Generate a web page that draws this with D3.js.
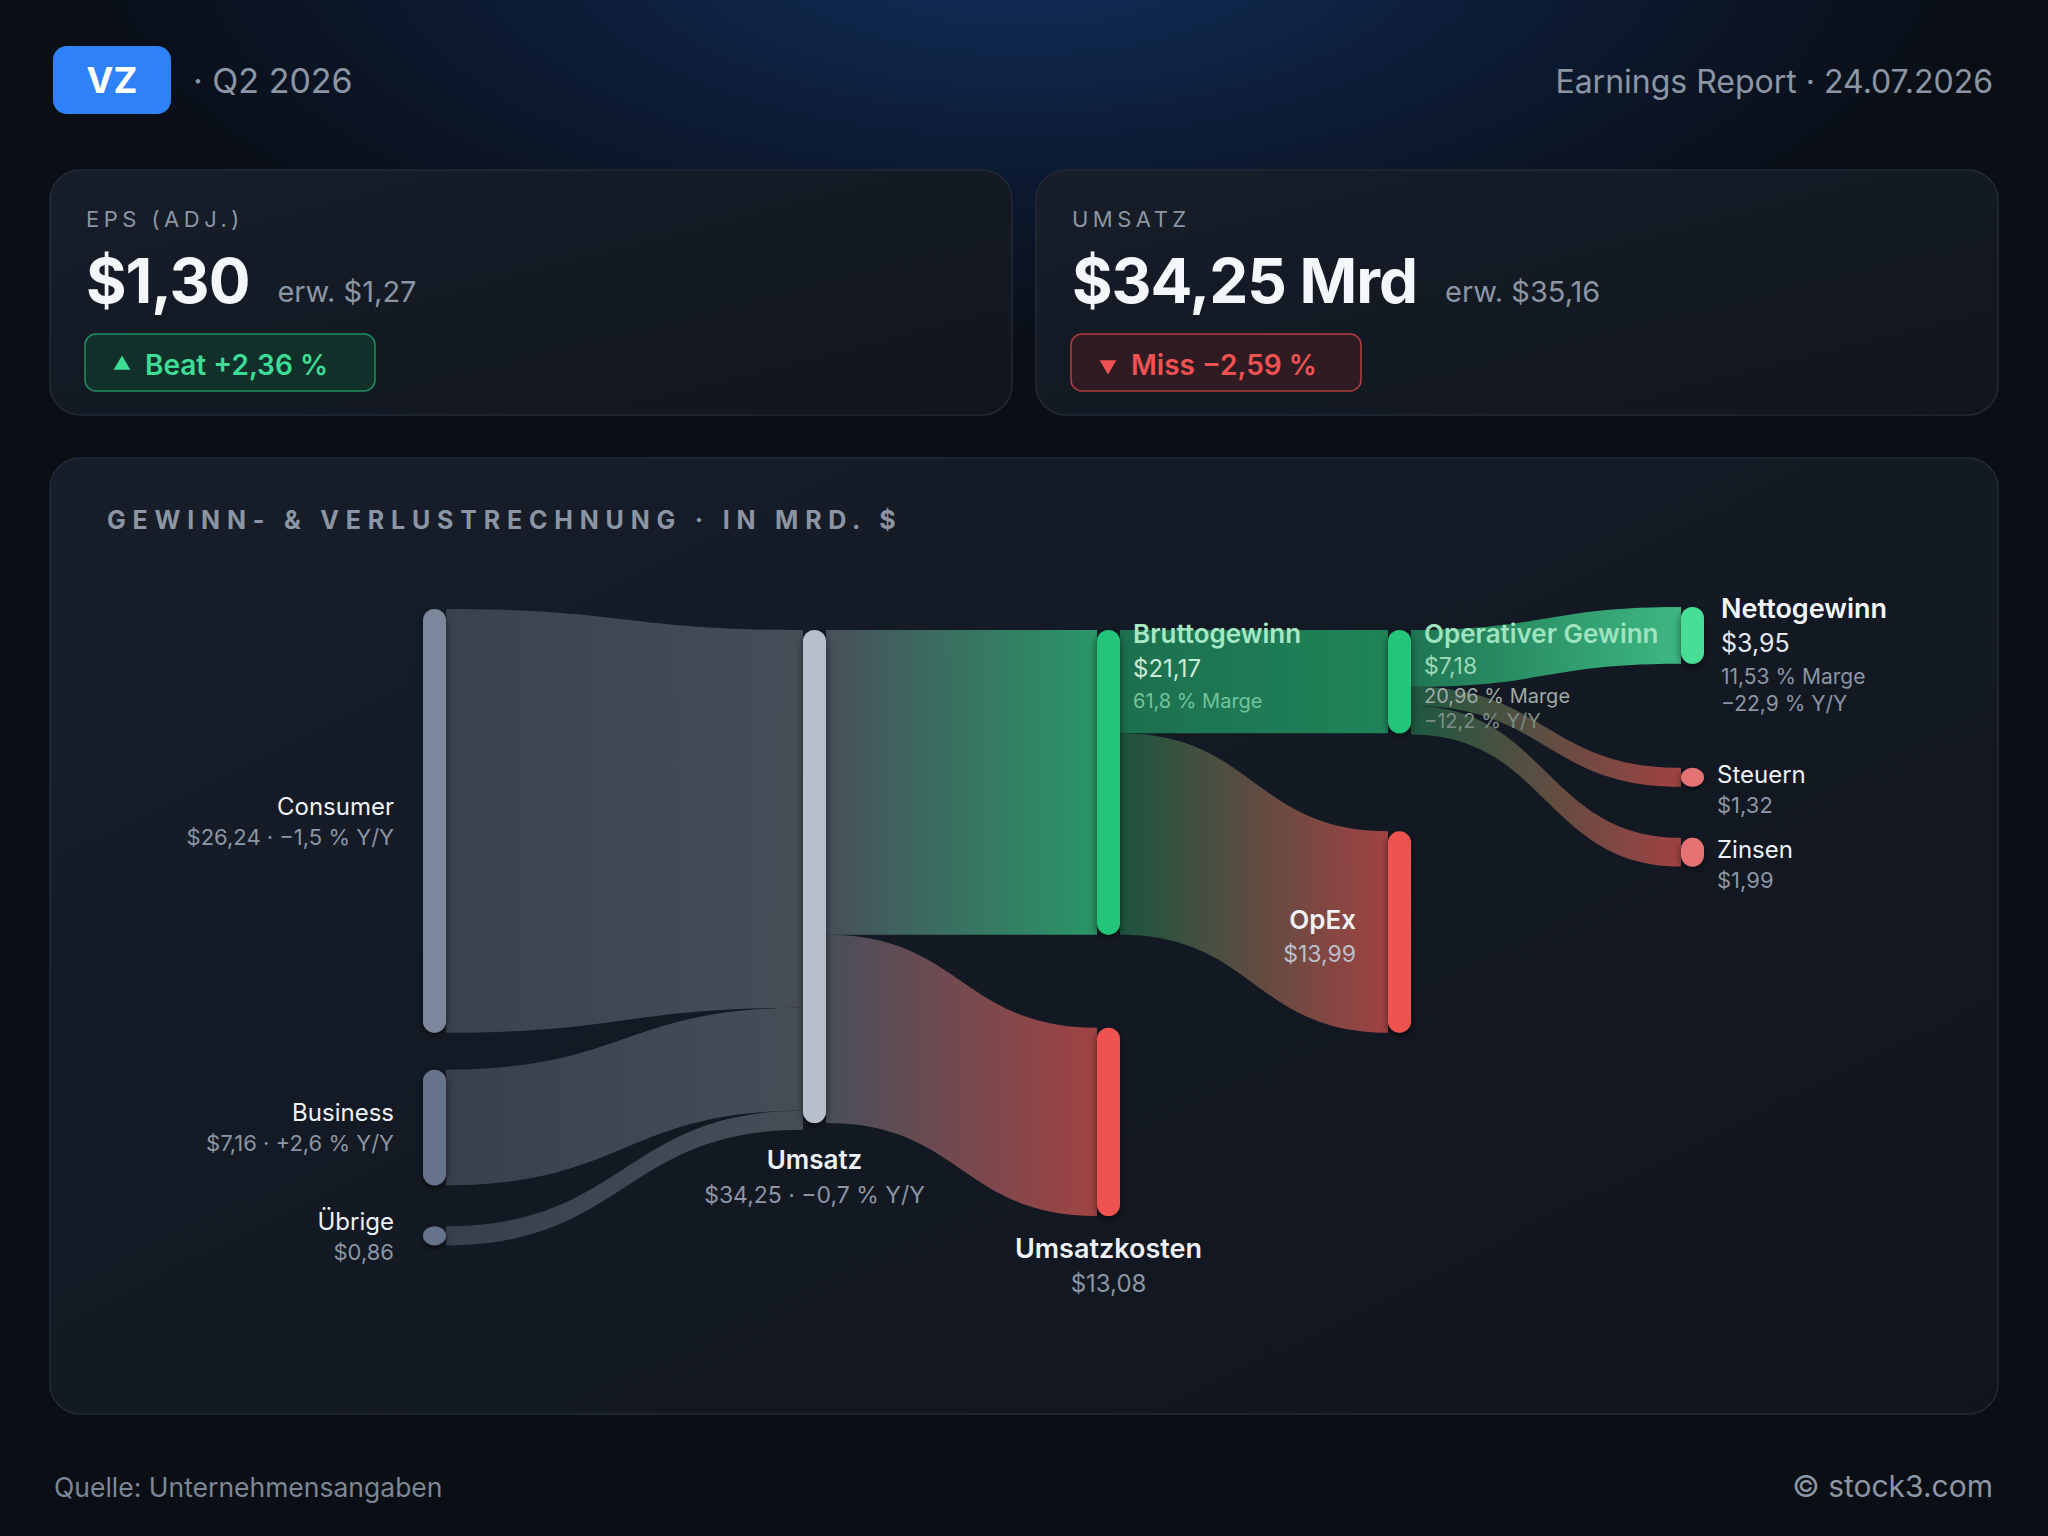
<!DOCTYPE html>
<html>
<head>
<meta charset="utf-8">
<script src="https://cdn.jsdelivr.net/npm/d3@7/dist/d3.min.js"></script>
<style>
html, body { margin: 0; padding: 0; background: #0a0e15; }
svg { display: block; font-family: Inter, "Noto Sans", "DejaVu Sans", sans-serif; }
</style>
</head>
<body>
<svg id="chart"></svg>
<script>
// header / cards
var ticker = "VZ";
var quarter = "Q2 2026";
var reportDate = "24.07.2026";
var kpiLabels = ["EPS (ADJ.)", "UMSATZ"];
var kpiActual = [1.30, 34.25];
var kpiExpected = [1.27, 35.16];
var kpiSurprise = [2.36, -2.59];
var kpiUnit = ["", " Mrd"];

// sankey nodes
var nodeNames = ["Consumer", "Business", "Übrige", "Umsatz", "Bruttogewinn", "Umsatzkosten",
  "Operativer Gewinn", "OpEx", "Nettogewinn", "Steuern", "Zinsen"];
var nodeValues = [26.24, 7.16, 0.86, 34.25, 21.17, 13.08, 7.18, 13.99, 3.95, 1.32, 1.99];
var nodeColumns = [0, 0, 0, 1, 2, 2, 3, 3, 4, 4, 4];
var nodeYoY = [-1.5, 2.6, null, -0.7, null, null, -12.2, null, -22.9, null, null];
var nodeMargin = [null, null, null, null, 61.8, null, 20.96, null, 11.53, null, null];

// sankey links
var linkSources = ["Consumer", "Business", "Übrige", "Umsatz", "Umsatz", "Bruttogewinn", "Bruttogewinn",
  "Operativer Gewinn", "Operativer Gewinn", "Operativer Gewinn"];
var linkTargets = ["Umsatz", "Umsatz", "Umsatz", "Bruttogewinn", "Umsatzkosten", "Operativer Gewinn", "OpEx",
  "Nettogewinn", "Steuern", "Zinsen"];
var linkValues = [26.24, 7.16, 0.86, 21.17, 13.08, 7.18, 13.99, 3.95, 1.32, 1.99];

var W = 2048, H = 1536;
var de = d3.formatLocale({decimal: ",", thousands: ".", grouping: [3], currency: ["$", ""], minus: "\u2212"});
var money = function (v) { return "$" + de.format(".2f")(v); };
var pct1 = de.format("+.1f");
var pctM = de.format(".2~f");
var pct2 = de.format("+.2f");

var svg = d3.select("#chart").attr("width", W).attr("height", H);
var defs = svg.append("defs");

// background
var bgGrad = defs.append("radialGradient").attr("id", "bgGlow")
  .attr("cx", 1024).attr("cy", -60).attr("r", 1000).attr("gradientUnits", "userSpaceOnUse")
  .attr("gradientTransform", "translate(1024,-60) scale(1,0.42) translate(-1024,60)");
bgGrad.append("stop").attr("offset", 0).attr("stop-color", "#12305e");
bgGrad.append("stop").attr("offset", 0.55).attr("stop-color", "#0c1a32");
bgGrad.append("stop").attr("offset", 1).attr("stop-color", "#0a0e15");
svg.append("rect").attr("width", W).attr("height", H).attr("fill", "#0a0e15");
svg.append("rect").attr("width", W).attr("height", 700).attr("fill", "url(#bgGlow)");

var cardGrad = defs.append("linearGradient").attr("id", "cardGrad")
  .attr("x1", 0).attr("y1", 0).attr("x2", 1).attr("y2", 1);
cardGrad.append("stop").attr("offset", 0).attr("stop-color", "#171e2a");
cardGrad.append("stop").attr("offset", 1).attr("stop-color", "#10151d");

var shadow = defs.append("filter").attr("id", "nodeShadow")
  .attr("x", "-100%").attr("y", "-20%").attr("width", "300%").attr("height", "140%");
shadow.append("feDropShadow").attr("dx", 0).attr("dy", 3).attr("stdDeviation", 4)
  .attr("flood-color", "#000").attr("flood-opacity", 0.55);

// header
svg.append("rect").attr("x", 53).attr("y", 46).attr("width", 118).attr("height", 68).attr("rx", 14)
  .attr("fill", "#2f81f7");
svg.append("text").attr("x", 112).attr("y", 93).attr("text-anchor", "middle")
  .attr("font-size", 36).attr("font-weight", 700).attr("fill", "#fff").text(ticker);
svg.append("text").attr("x", 193).attr("y", 93).attr("font-size", 34).attr("fill", "#8c95a3")
  .text("\u00b7 " + quarter);
svg.append("text").attr("x", 1993).attr("y", 93).attr("text-anchor", "end")
  .attr("font-size", 32).attr("fill", "#8c95a3").text("Earnings Report \u00b7 " + reportDate);

// KPI cards
var cardX = d3.scaleOrdinal().domain([0, 1]).range([50, 1036]);
kpiLabels.forEach(function (lab, i) {
  var g = svg.append("g").attr("transform", "translate(" + cardX(i) + ",170)");
  g.append("rect").attr("width", 962).attr("height", 245).attr("rx", 30)
    .attr("fill", "url(#cardGrad)").attr("stroke", "#232a36").attr("stroke-width", 1.5);
  g.append("text").attr("x", 36).attr("y", 57).attr("font-size", 22).attr("letter-spacing", 4.5)
    .attr("fill", "#8c95a3").text(lab);
  var big = g.append("text").attr("x", 36).attr("y", 133).attr("font-size", 62).attr("font-weight", 700)
    .attr("letter-spacing", -1).attr("fill", "#f4f6fa").text(money(kpiActual[i]) + kpiUnit[i]);
  var bw = big.node().getComputedTextLength();
  g.append("text").attr("x", 36 + bw + 28).attr("y", 132).attr("font-size", 29).attr("fill", "#8c95a3")
    .text("erw. " + money(kpiExpected[i]));
  var up = kpiSurprise[i] >= 0;
  var col = up ? "#3ddc97" : "#f05252";
  g.append("rect").attr("x", 35).attr("y", 164).attr("width", 290).attr("height", 57).attr("rx", 11)
    .attr("fill", up ? "#11302a" : "#2e1c22").attr("stroke", up ? "#1f8f60" : "#b43c3c").attr("stroke-width", 1.5);
  g.append("path").attr("transform", "translate(72,195) rotate(" + (up ? 0 : 180) + ")")
    .attr("d", d3.symbol(d3.symbolTriangle, 120)()).attr("fill", col);
  g.append("text").attr("x", 95).attr("y", 205).attr("font-size", 28).attr("font-weight", 600)
    .attr("fill", col).text((up ? "Beat " : "Miss ") + pct2(kpiSurprise[i]) + " %");
});

// chart panel
svg.append("rect").attr("x", 50).attr("y", 458).attr("width", 1948).attr("height", 956).attr("rx", 30)
  .attr("fill", "url(#cardGrad)").attr("stroke", "#222936").attr("stroke-width", 1.5);
svg.append("text").attr("x", 107).attr("y", 529).attr("font-size", 25).attr("font-weight", 700)
  .attr("letter-spacing", 6.8).attr("fill", "#8c95a3").text("GEWINN- & VERLUSTRECHNUNG \u00b7 IN MRD. $");

// ---- sankey layout ----
var maxV = d3.max(nodeValues);
var y = d3.scaleLinear().domain([0, maxV]).range([0, 493]);
var yLeft = d3.scaleLinear().domain([0, maxV]).range([0, 553]);
var colX = d3.scaleOrdinal().domain([0, 1, 2, 3, 4]).range([423, 803, 1097, 1388, 1681]);
var nodeW = 23, minH = 19;
var colTop = [609, 630, 630, 630, 607];
var gapBefore = {"Business": 37, "Übrige": 41, "Umsatzkosten": 93, "OpEx": 98, "Steuern": 104, "Zinsen": 51};

var nodeFill = {"Consumer": "#7b879c", "Business": "#66738b", "Übrige": "#66738b", "Umsatz": "#b8bfcc",
  "Bruttogewinn": "#22c57a", "Umsatzkosten": "#ef5350", "Operativer Gewinn": "#22c57a", "OpEx": "#ef5350",
  "Nettogewinn": "#4ade96", "Steuern": "#e57373", "Zinsen": "#e57373"};
var flowOut = {"Consumer": "#3d4451", "Business": "#3b424f", "Übrige": "#3b424f", "Umsatz": "#4b525d",
  "Bruttogewinn": "#1d7451", "Operativer Gewinn": "#1f7a55"};
var flowIn = {"Umsatz": "#4a505a", "Bruttogewinn": "#2a9d6c", "Umsatzkosten": "#a94545",
  "Operativer Gewinn": "#1f8a5c", "OpEx": "#a94545", "Nettogewinn": "#40c088", "Steuern": "#a84444", "Zinsen": "#a84444"};
var costNodes = ["Umsatzkosten", "OpEx", "Steuern", "Zinsen"];

var nodes = nodeNames.map(function (n, i) {
  return {name: n, value: nodeValues[i], col: nodeColumns[i], yoy: nodeYoY[i], margin: nodeMargin[i]};
});
var byName = {};
nodes.forEach(function (n) { byName[n.name] = n; });
d3.range(5).forEach(function (c) {
  var cur = colTop[c];
  nodes.filter(function (n) { return n.col === c; }).forEach(function (n) {
    cur += gapBefore[n.name] || 0;
    var s = c === 0 ? yLeft : y;
    n.h = Math.max(minH, s(n.value));
    n.x = colX(c);
    n.y0 = cur;
    n.y1 = cur + n.h;
    n.outOff = n.y0;
    n.inOff = n.y0;
    cur = n.y1;
  });
});

var links = linkValues.map(function (v, i) {
  var s = byName[linkSources[i]], t = byName[linkTargets[i]];
  var sw = s.col === 0 ? s.h : y(v);
  var tw = Math.max(t.col === 4 ? t.h : y(v), t.col === 1 ? minH : 0);
  var l = {source: s, target: t, value: v, i: i,
    x0: s.x + nodeW, x1: t.x, a0: s.outOff, b0: s.outOff + sw, a1: t.inOff, b1: t.inOff + tw};
  s.outOff += sw;
  t.inOff += tw;
  return l;
});

function linkArea(l) {
  var xm = (l.x0 + l.x1) / 2;
  return "M" + l.x0 + "," + l.a0 + "C" + xm + "," + l.a0 + " " + xm + "," + l.a1 + " " + l.x1 + "," + l.a1 +
    "L" + l.x1 + "," + l.b1 + "C" + xm + "," + l.b1 + " " + xm + "," + l.b0 + " " + l.x0 + "," + l.b0 + "Z";
}

links.forEach(function (l) {
  var g = defs.append("linearGradient").attr("id", "lg" + l.i).attr("gradientUnits", "userSpaceOnUse")
    .attr("x1", l.x0).attr("x2", l.x1).attr("y1", 0).attr("y2", 0);
  var c0 = flowOut[l.source.name];
  if (costNodes.indexOf(l.target.name) >= 0 && l.source.col >= 2) c0 = d3.interpolateRgb(c0, "#1a2420")(0.35);
  g.append("stop").attr("offset", 0).attr("stop-color", c0);
  g.append("stop").attr("offset", 1).attr("stop-color", flowIn[l.target.name]);
});

svg.append("g").selectAll("path").data(links).enter().append("path")
  .attr("d", linkArea)
  .attr("fill", function (d) { return "url(#lg" + d.i + ")"; })
  .attr("fill-opacity", 0.95);

svg.append("g").selectAll("rect").data(nodes).enter().append("rect")
  .attr("x", function (d) { return d.x; })
  .attr("y", function (d) { return d.y0; })
  .attr("width", nodeW)
  .attr("height", function (d) { return d.h; })
  .attr("rx", nodeW / 2)
  .attr("fill", function (d) { return nodeFill[d.name]; })
  .attr("filter", "url(#nodeShadow)");

// ---- labels ----
var lab = svg.append("g");
function txt(x, yy, s, size, weight, fill, anchor) {
  lab.append("text").attr("x", x).attr("y", yy).attr("font-size", size).attr("font-weight", weight)
    .attr("fill", fill).attr("text-anchor", anchor || "start").text(s);
}
nodes.forEach(function (n) {
  var cy = (n.y0 + n.y1) / 2;
  var cx = n.x + nodeW / 2;
  var right = n.x + nodeW;
  var val = money(n.value);
  var yoyTxt = n.yoy != null ? pct1(n.yoy) + " % Y/Y" : null;
  if (n.col === 0) {
    txt(n.x - 29, cy - 6, n.name, 24, 400, "#eef1f5", "end");
    txt(n.x - 29, cy + 24, val + (yoyTxt ? " \u00b7 " + yoyTxt : ""), 22, 400, "#8c95a3", "end");
  } else if (n.name === "Umsatz") {
    txt(cx, n.y1 + 46, n.name, 26, 600, "#eef1f5", "middle");
    txt(cx, n.y1 + 80, val + " \u00b7 " + yoyTxt, 23, 400, "#8c95a3", "middle");
  } else if (n.name === "Umsatzkosten") {
    txt(cx, n.y1 + 42, n.name, 27, 600, "#eef1f5", "middle");
    txt(cx, n.y1 + 76, val, 24, 400, "#8c95a3", "middle");
  } else if (n.name === "OpEx") {
    txt(n.x - 32, cy - 3, n.name, 26, 600, "#eef1f5", "end");
    txt(n.x - 32, cy + 30, val, 23, 400, "#b9c0ca", "end");
  } else if (n.name === "Bruttogewinn") {
    txt(right + 13, n.y0 + 13, n.name, 26, 600, "#a6e8c6");
    txt(right + 13, n.y0 + 47, val, 24, 400, "#c9ecd8");
    txt(right + 13, n.y0 + 78, pctM(n.margin) + " % Marge", 20, 400, "#74c39b");
  } else if (n.name === "Operativer Gewinn") {
    txt(right + 13, n.y0 + 13, n.name, 26, 600, "#9fe3bf");
    txt(right + 13, n.y0 + 44, val, 23, 400, "#9ad8b6");
    txt(right + 13, n.y0 + 73, pctM(n.margin) + " % Marge", 20, 400, "#a0a9a4");
    txt(right + 13, n.y0 + 98, yoyTxt, 20, 400, "#7c8e86");
  } else if (n.name === "Nettogewinn") {
    txt(right + 17, n.y0 + 11, n.name, 27, 600, "#f4f6fa");
    txt(right + 17, n.y0 + 45, val, 25, 400, "#e3e7ee");
    txt(right + 17, n.y0 + 77, pctM(n.margin) + " % Marge", 21, 400, "#8c95a3");
    txt(right + 17, n.y0 + 104, yoyTxt, 21, 400, "#8c95a3");
  } else {
    txt(right + 13, cy + 6, n.name, 24, 400, "#eef1f5");
    txt(right + 13, cy + 36, val, 22, 400, "#8c95a3");
  }
});

// footer
svg.append("text").attr("x", 54).attr("y", 1497).attr("font-size", 26.5).attr("fill", "#7d8694")
  .text("Quelle: Unternehmensangaben");
svg.append("text").attr("x", 1993).attr("y", 1497).attr("text-anchor", "end").attr("font-size", 30)
  .attr("fill", "#8c95a3").text("\u00a9 stock3.com");
</script>
</body>
</html>
